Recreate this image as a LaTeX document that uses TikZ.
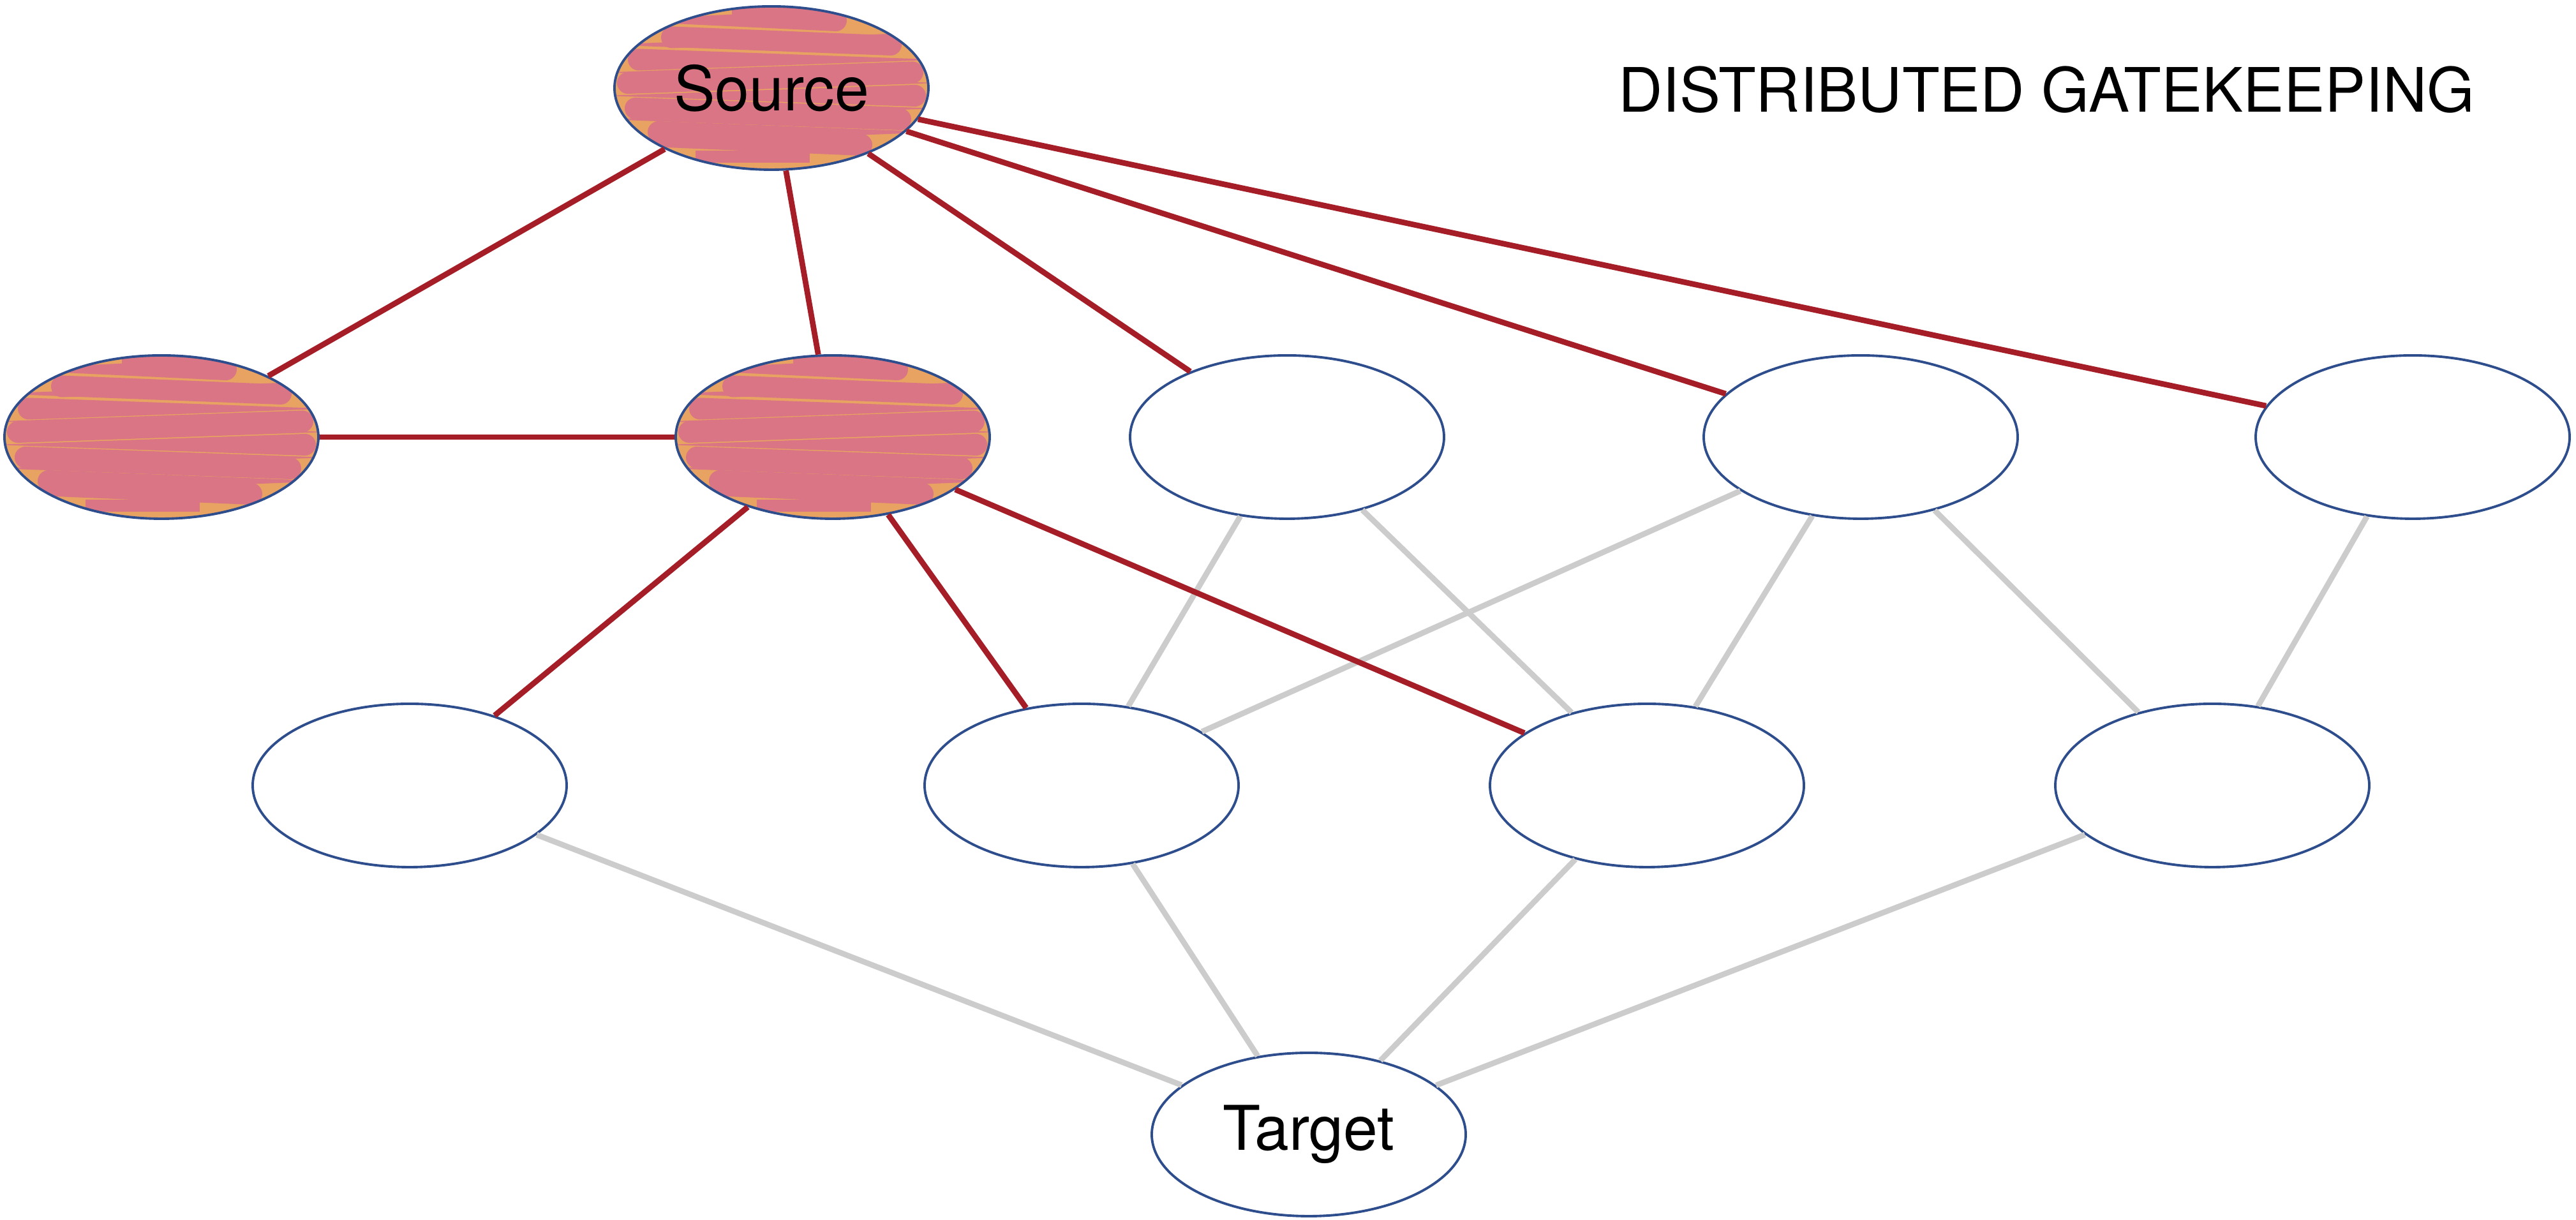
\documentclass[tikz,border=0pt]{standalone}
\usepackage{fontspec}
\setmainfont{TeX Gyre Heros}
\usepackage{xcolor}
\usepackage{tikz}
\usetikzlibrary{shapes.geometric}

\definecolor{nodeblue}{HTML}{2E4D8C}
\definecolor{gatepink}{HTML}{D97584}
\definecolor{gateorange}{HTML}{E8A261}
\definecolor{pathred}{HTML}{A51D26}
\definecolor{idlegrey}{HTML}{CCCCCC}

\begin{document}
\begin{tikzpicture}[
  plain/.style={ellipse, draw=nodeblue, line width=1.1pt, fill=white, minimum width=4.92cm, minimum height=2.56cm, inner sep=0pt, font=\fontsize{27.5}{33}\selectfont},
  gate/.style={plain, fill=gateorange, path picture={
    \fill[gatepink] ([shift={(-0.62,0.98)}]path picture bounding box.center) rectangle ([shift={(1.0,1.4)}]path picture bounding box.center);
    \fill[gatepink] ([shift={(-1.19,-1.17)}]path picture bounding box.center) rectangle ([shift={(0.6,-0.98)}]path picture bounding box.center);
    % strokes turning on the right
    \foreach \yy/\xx in {1.06/1.01, 0.68/1.87, 0.245/2.21, -0.12/2.25, -0.49/2.02, -0.89/1.41}
      \fill[gatepink] ([shift={(-2.6,\yy)}]path picture bounding box.center)
        -- ([shift={(\xx,\yy+0.17)}]path picture bounding box.center) arc[start angle=90, end angle=-90, radius=0.17] -- cycle;
    % strokes turning on the left
    \foreach \yy/\xx in {0.795/-1.56, 0.445/-2.08, 0.08/-2.25, -0.32/-2.13, -0.69/-1.77}
      \fill[gatepink] ([shift={(2.6,\yy)}]path picture bounding box.center)
        -- ([shift={(\xx,\yy+0.17)}]path picture bounding box.center) arc[start angle=90, end angle=270, radius=0.17] -- cycle;
  }},
  hot/.style={draw=pathred, line width=2.5pt},
  cold/.style={draw=idlegrey, line width=2.5pt}
]
\useasboundingbox (0,0) rectangle (40.37,19.12);

% Top: source
\node[gate] (source) at (12.09, 17.74) {Source};

% Row 2
\node[gate] (a1) at (2.53, 12.27) {};
\node[gate] (a2) at (13.05, 12.27) {};
\node[plain] (a3) at (20.17, 12.27) {};
\node[plain] (a4) at (29.16, 12.27) {};
\node[plain] (a5) at (37.81, 12.27) {};

% Row 3
\node[plain] (b1) at (6.42, 6.81) {};
\node[plain] (b2) at (16.95, 6.81) {};
\node[plain] (b3) at (25.81, 6.81) {};
\node[plain] (b4) at (34.67, 6.81) {};

% Bottom: target
\node[plain] (target) at (20.51, 1.34) {Target};

% Title
\node[anchor=base, font=\fontsize{27.3}{33}\selectfont] (title) at (32.07, 17.36) {DISTRIBUTED GATEKEEPING};

% Grey links
\draw[cold] (a3) -- (b2);
\draw[cold] (a3) -- (b3);
\draw[cold] (a4) -- (b2);
\draw[cold] (a4) -- (b3);
\draw[cold] (a4) -- (b4);
\draw[cold] (a5) -- (b4);
\draw[cold] (b1) -- (target);
\draw[cold] (b2) -- (target);
\draw[cold] (b3) -- (target);
\draw[cold] (b4) -- (target);

% Red links
\draw[hot] (source) -- (a1);
\draw[hot] (source) -- (a2);
\draw[hot] (source) -- (a3);
\draw[hot] (source) -- (a4);
\draw[hot] (source) -- (a5);
\draw[hot] (a1) -- (a2);
\draw[hot] (a2) -- (b1);
\draw[hot] (a2) -- (b2);
\draw[hot] (a2) -- (b3);

\end{tikzpicture}
\end{document}
